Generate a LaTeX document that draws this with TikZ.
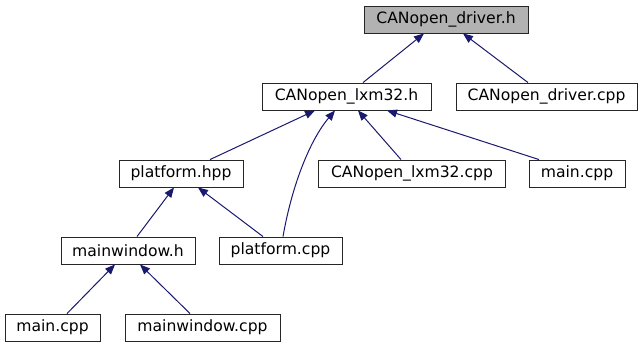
\documentclass[tikz,border=0pt]{standalone}
\usepackage{fontspec}
\setmainfont{DejaVu Sans}
\usetikzlibrary{arrows.meta}
\definecolor{edgeblue}{RGB}{25,25,112}

\begin{document}
\begin{tikzpicture}[x=1pt,y=1pt,
		file/.style={draw=black!85,line width=0.9pt,rectangle,inner xsep=0pt,
			minimum height=27pt,font=\fontsize{15.6}{18}\selectfont},
		incl/.style={draw=edgeblue,line width=1pt,-{Triangle[length=10pt,width=8pt]}}]
		\useasboundingbox (0,0) rectangle (643,-349);

		% files, one row per include level
		\node[file,fill=black!30,minimum width=164pt] (driverh) at (446,-19.5) {CANopen\_driver.h};

		\node[file,minimum width=169pt] (lxm32h) at (346.5,-96.5) {CANopen\_lxm32.h};
		\node[file,minimum width=181pt] (drivercpp) at (546.5,-96.5) {CANopen\_driver.cpp};

		\node[file,minimum width=124pt] (platformhpp) at (181,-173.5) {platform.hpp};
		\node[file,minimum width=187pt] (lxm32cpp) at (412,-173.5) {CANopen\_lxm32.cpp};
		\node[file,minimum width=96pt] (maincppa) at (577,-173.5) {main.cpp};

		\node[file,minimum width=134pt] (mainwindowh) at (128,-250.5) {mainwindow.h};
		\node[file,minimum width=123pt] (platformcpp) at (280.5,-250.5) {platform.cpp};

		\node[file,minimum width=95pt] (maincppb) at (52.5,-327.5) {main.cpp};
		\node[file,minimum width=155pt] (mainwindowcpp) at (202.5,-327.5) {mainwindow.cpp};

		% include edges, child -> included header
		\draw[incl] ([xshift=16.5pt]lxm32h.north) -- ([xshift=-22pt]driverh.south);
		\draw[incl] ([xshift=-18.5pt]drivercpp.north) -- ([xshift=17pt]driverh.south);

		\draw[incl] ([xshift=29pt]platformhpp.north) -- ([xshift=-31.5pt]lxm32h.south);
		\draw[incl] ([xshift=2.5pt]platformcpp.north)
			.. controls (292,-185) and (310,-140) .. ([xshift=-11.5pt]lxm32h.south);
		\draw[incl] ([xshift=-11pt]lxm32cpp.north) -- ([xshift=11.5pt]lxm32h.south);
		\draw[incl] ([xshift=-38pt]maincppa.north) -- ([xshift=40.5pt]lxm32h.south);

		\draw[incl] ([xshift=9pt]mainwindowh.north) -- ([xshift=-7pt]platformhpp.south);
		\draw[incl] ([xshift=-17.5pt]platformcpp.north) -- ([xshift=17pt]platformhpp.south);

		\draw[incl] ([xshift=14.5pt]maincppb.north) -- ([xshift=-13pt]mainwindowh.south);
		\draw[incl] ([xshift=-12.5pt]mainwindowcpp.north) -- ([xshift=12pt]mainwindowh.south);
\end{tikzpicture}
\end{document}
